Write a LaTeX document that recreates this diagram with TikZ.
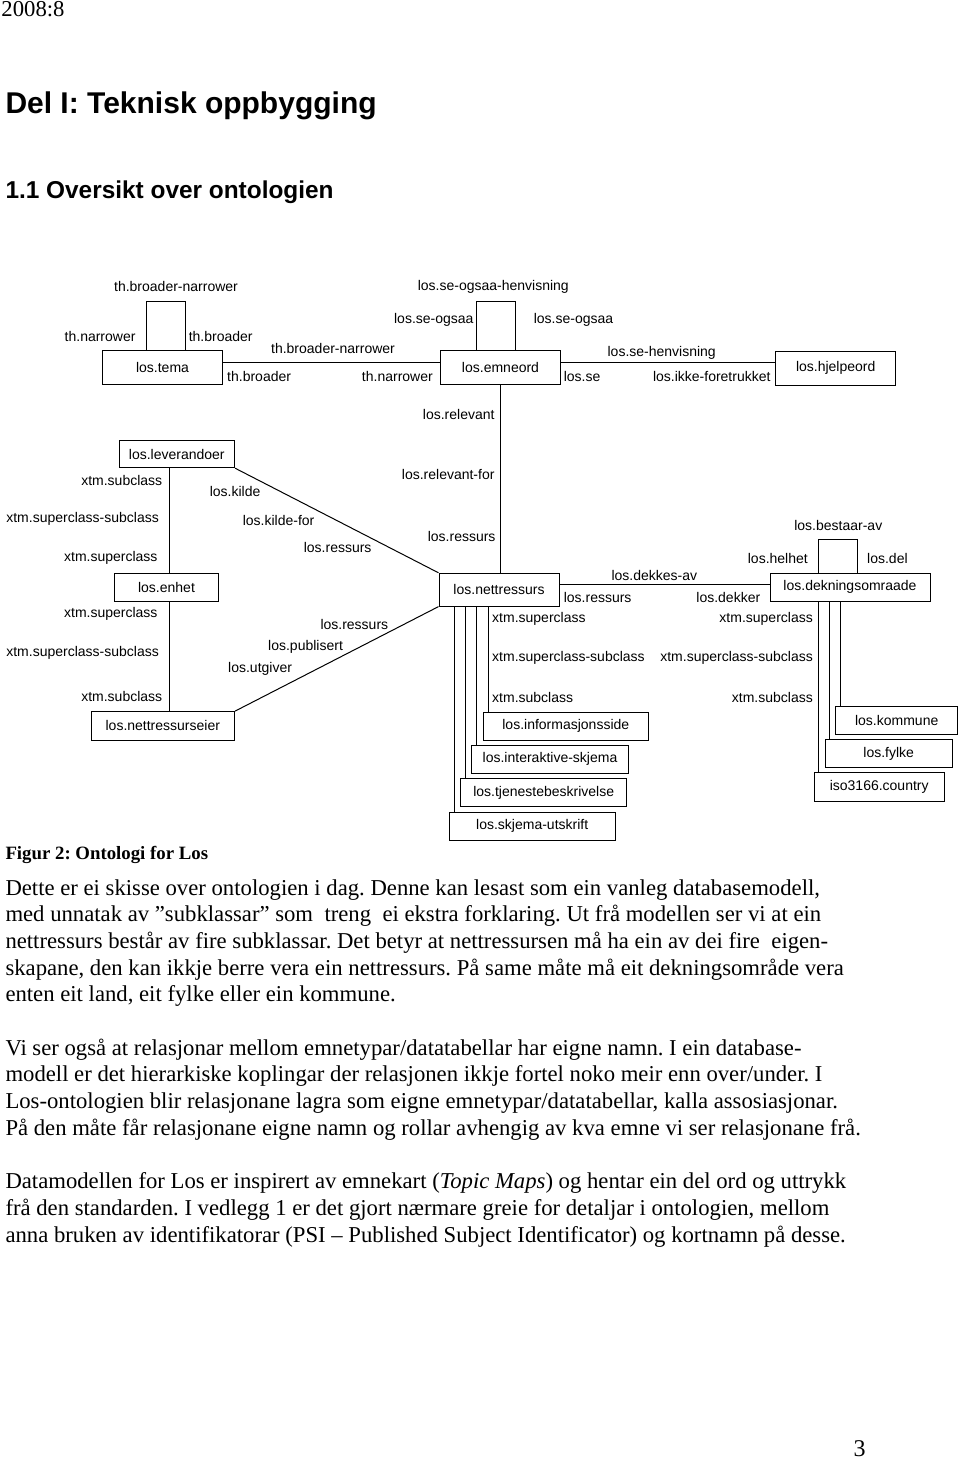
\documentclass[tikz,border=0pt]{standalone}
\usepackage{fontspec}
\setmainfont{Liberation Serif}
\newfontfamily\diafont{Liberation Sans}
\usetikzlibrary{calc}
\frenchspacing

\begin{document}
\begin{tikzpicture}[x=0.5pt,y=-0.5pt,line width=0.5pt,
		entity/.style={draw,inner sep=0pt,font=\diafont\fontsize{7}{8}\selectfont},
		role/.style={inner sep=0pt,font=\diafont\fontsize{7}{8}\selectfont},
		prose/.style={inner sep=0pt,anchor=base west,font=\fontsize{11.35}{13.35}\selectfont}]
		\useasboundingbox (0,0) rectangle (960,1460);
		
		\node[prose] (issue) at (1,16.7) {2008:8};
		\node[prose,font=\diafont\bfseries\fontsize{15}{18}\selectfont] (part) at (5,113.3) {Del I: Teknisk oppbygging};
		\node[prose,font=\diafont\bfseries\fontsize{12.2}{14}\selectfont] (section) at (5,198.3) {1.1 Oversikt over ontologien};
		
		% boxes
		\node[entity,minimum width=60.2pt,minimum height=16.7pt] (tema) at (162.5,367.7) {los.tema};
		\node[entity,minimum width=60.2pt,minimum height=16.7pt] (emneord) at (500.5,367.7) {los.emneord};
		\node[entity,minimum width=60pt,minimum height=16.7pt] (hjelpeord) at (835.7,368.3) {los.hjelpeord};
		\node[entity,minimum width=57.8pt,minimum height=13.7pt] (lever) at (176.8,454) {los.leverandoer};
		\node[entity,minimum width=52.2pt,minimum height=13.9pt] (enhet) at (166.5,587.2) {los.enhet};
		\node[entity,minimum width=60pt,minimum height=16.4pt] (netres) at (499,589.7) {los.nettressurs};
		\node[entity,minimum width=80pt,minimum height=13.9pt] (dekning) at (850,587.2) {los.dekningsomraade};
		\node[entity,minimum width=71.8pt,minimum height=14.2pt] (eier) at (162.8,725.8) {los.nettressurseier};
		\node[entity,minimum width=82.5pt,minimum height=13.7pt] (info) at (565.8,726.3) {los.informasjonsside};
		\node[entity,minimum width=78.3pt,minimum height=14.2pt] (interaktiv) at (550,759.2) {los.interaktive-skjema};
		\node[entity,minimum width=83pt,minimum height=14.2pt] (tjeneste) at (543.7,792.5) {los.tjenestebeskrivelse};
		\node[entity,minimum width=82.8pt,minimum height=13.9pt] (utskrift) at (532.2,826.2) {los.skjema-utskrift};
		\node[entity,minimum width=61pt,minimum height=13.8pt] (kommune) at (896.7,720.5) {los.kommune};
		\node[entity,minimum width=63.6pt,minimum height=13.9pt] (fylke) at (888.7,753.8) {los.fylke};
		\node[entity,minimum width=65.2pt,minimum height=14.2pt] (country) at (879.2,786.8) {iso3166.country};
		
		% connectors
		\coordinate (topbar) at ($(emneord.west)+(0,-5)$);
		\draw (tema.east |- topbar) -- (emneord.west |- topbar);
		\draw (emneord.east |- topbar) -- (hjelpeord.west |- topbar);
		\draw (emneord.south) -- (emneord.south |- netres.north);
		\coordinate (midbar) at ($(netres.west)+(0,-5.4)$);
		\draw (netres.east |- midbar) -- (dekning.west |- midbar);
		\coordinate (spine) at ($(enhet.north)+(2.5,0)$);
		\draw (spine |- lever.south) -- (spine |- enhet.north);
		\draw (spine |- enhet.south) -- (spine |- eier.north);
		\draw (lever.south east) -- (netres.north west);
		\draw (eier.north east) -- (netres.south west);
		\foreach \n in {info,interaktiv,tjeneste,utskrift} {
			\coordinate (\n-up) at ([xshift=2.75pt]\n.north west);
			\draw (\n-up) -- (\n-up |- netres.south);
		}
		\foreach \n in {kommune,fylke,country} {
			\coordinate (\n-up) at ([xshift=2.6pt]\n.north west);
			\draw (\n-up) -- (\n-up |- dekning.south);
		}
		
		% loops
		\draw ([xshift=22.35pt]tema.north west) -- ++(0,-49) -- ++(39,0) -- ++(0,49);
		\draw ([xshift=18.5pt]emneord.north west) -- ++(0,-49) -- ++(39,0) -- ++(0,49);
		\draw ([xshift=24.65pt]dekning.north west) -- ++(0,-33.3) -- ++(39,0) -- ++(0,33.3);
		
		% role names
		\foreach \t/\a/\x/\y [count=\i] in {
			th.broader-narrower/center/176/286.7, th.narrower/east/136/336.7, th.broader/west/188.3/336.7,
			th.broader-narrower/center/333/348.3, th.broader/west/226.7/376, th.narrower/east/433.3/376,
			los.se-ogsaa-henvisning/center/493.3/286.7, los.se-ogsaa/east/474/320, los.se-ogsaa/west/533.3/320,
			los.se-henvisning/center/661.7/352.7, los.se/west/563.3/376, los.ikke-foretrukket/east/771/376,
			los.relevant/east/495/414,
			xtm.subclass/east/162.7/480.7, xtm.superclass-subclass/east/159.3/519.3, xtm.superclass/east/158/557.7,
			los.kilde/west/209.3/491.7, los.kilde-for/west/242.3/520, los.ressurs/west/303.3/547.3,
			los.relevant-for/east/495/474.3, los.ressurs/east/496/536.7,
			los.dekkes-av/center/654.3/575, los.ressurs/west/563.3/597, los.dekker/east/760.7/597,
			los.bestaar-av/center/838.3/525, los.helhet/east/808.3/558.3, los.del/west/866.7/558.3,
			xtm.superclass/east/158/614, xtm.superclass-subclass/east/159.3/652.7, xtm.subclass/east/162.7/696.7,
			los.ressurs/west/320/624.3, los.publisert/west/267.7/646.7, los.utgiver/west/227.7/669,
			xtm.superclass/west/491.7/619.3, xtm.superclass-subclass/west/491.7/658.3, xtm.subclass/west/491.7/697.3,
			xtm.superclass/east/813.3/619.3, xtm.superclass-subclass/east/813.3/658.3, xtm.subclass/east/813.3/697.3}
			\node[role,anchor=\a] (role\i) at (\x,\y) {\t};
		
		% caption and text
		\node[prose,font=\bfseries\fontsize{9.4}{11}\selectfont] (caption) at (5,859.3) {Figur 2: Ontologi for Los};
		\node[prose] (p1a) at (5,895) {Dette er ei skisse over ontologien i dag. Denne kan lesast som ein vanleg databasemodell,};
		\node[prose] (p1b) at (5,921.7) {med unnatak av ”subklassar” som\ \ treng\ \ ei ekstra forklaring. Ut frå modellen ser vi at ein};
		\node[prose] (p1c) at (5,948.3) {nettressurs består av fire subklassar. Det betyr at nettressursen må ha ein av dei fire\ \ eigen-};
		\node[prose] (p1d) at (5,975) {skapane, den kan ikkje berre vera ein nettressurs. På same måte må eit dekningsområde vera};
		\node[prose] (p1e) at (5,1001.7) {enten eit land, eit fylke eller ein kommune.};
		\node[prose] (p2a) at (5,1055.1) {Vi ser også at relasjonar mellom emnetypar/datatabellar har eigne namn. I ein database-};
		\node[prose] (p2b) at (5,1081.8) {modell er det hierarkiske koplingar der relasjonen ikkje fortel noko meir enn over/under. I};
		\node[prose] (p2c) at (5,1108.5) {Los-ontologien blir relasjonane lagra som eigne emnetypar/datatabellar, kalla assosiasjonar.};
		\node[prose] (p2d) at (5,1135.2) {På den måte får relasjonane eigne namn og rollar avhengig av kva emne vi ser relasjonane frå.};
		\node[prose] (p3a) at (5,1188.6) {Datamodellen for Los er inspirert av emnekart (\textit{Topic Maps}) og hentar ein del ord og uttrykk};
		\node[prose] (p3b) at (5,1215.3) {frå den standarden. I vedlegg 1 er det gjort nærmare greie for detaljar i ontologien, mellom};
		\node[prose] (p3c) at (5,1242) {anna bruken av identifikatorar (PSI – Published Subject Identificator) og kortnamn på desse.};
		
		\node[prose,font=\fontsize{12}{14}\selectfont] (pageno) at (853,1456) {3};
	\end{tikzpicture}
\end{document}
